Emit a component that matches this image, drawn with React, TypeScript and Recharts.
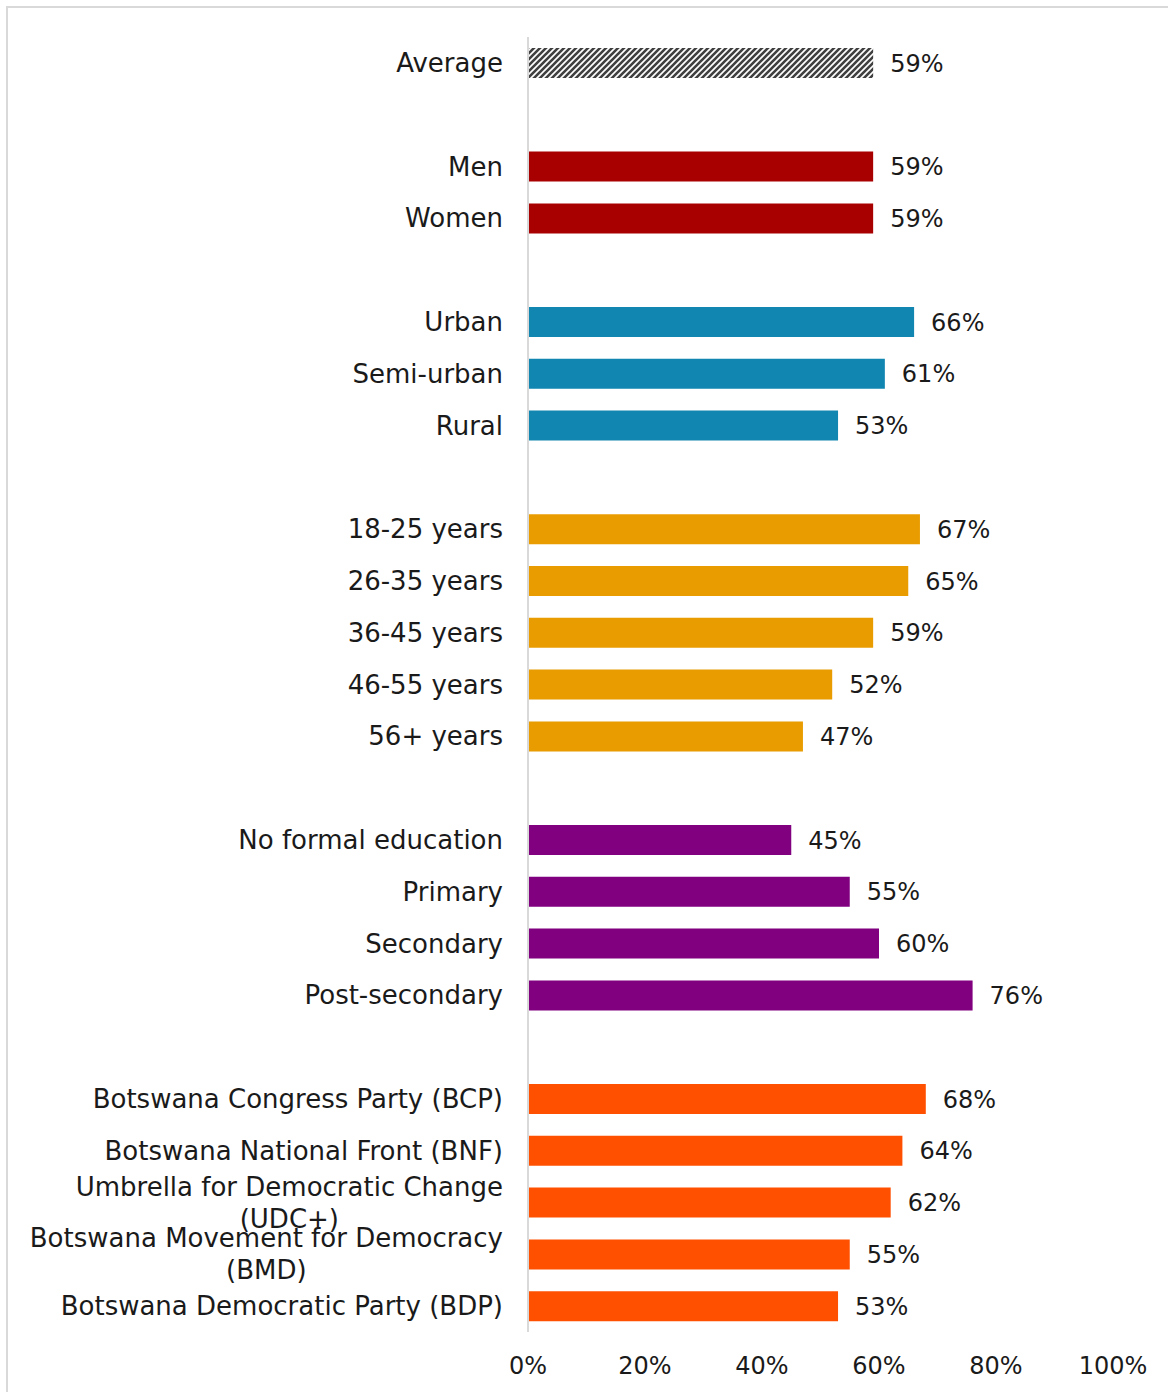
import React from 'react'
import { BarChart, Bar, XAxis, YAxis, Cell, LabelList } from 'recharts'

// rows top to bottom, '' marks the spacer rows between groups
const categories = [
  'Average', '',
  'Men', 'Women', '',
  'Urban', 'Semi-urban', 'Rural', '',
  '18-25 years', '26-35 years', '36-45 years', '46-55 years', '56+ years', '',
  'No formal education', 'Primary', 'Secondary', 'Post-secondary', '',
  'Botswana Congress Party (BCP)',
  'Botswana National Front (BNF)',
  'Umbrella for Democratic Change (UDC+)',
  'Botswana Movement for Democracy (BMD)',
  'Botswana Democratic Party (BDP)',
]

const values: (number | null)[] = [
  59, null,
  59, 59, null,
  66, 61, 53, null,
  67, 65, 59, 52, 47, null,
  45, 55, 60, 76, null,
  68, 64, 62, 55, 53,
]

const groups: (string | null)[] = [
  'average', null,
  'gender', 'gender', null,
  'location', 'location', 'location', null,
  'age', 'age', 'age', 'age', 'age', null,
  'education', 'education', 'education', 'education', null,
  'party', 'party', 'party', 'party', 'party',
]

const xTicks = [0, 20, 40, 60, 80, 100]

const groupColors: Record<string, string> = {
  average: 'url(#avgHatch)',
  gender: '#A80000',
  location: '#1086B0',
  age: '#E89C00',
  education: '#800080',
  party: '#FF5000',
}

const FONT = '"DejaVu Sans", sans-serif'
const CAT_SIZE = 26
const NUM_SIZE = 24
const TEXT = '#1a1a1a'

const data = categories.map((label, i) => ({
  id: `r${i}`,
  label,
  value: values[i],
  group: groups[i],
}))

let measureCtx: CanvasRenderingContext2D | null = null
function textWidth(s: string): number {
  if (!measureCtx) {
    measureCtx = document.createElement('canvas').getContext('2d')
  }
  if (!measureCtx) return s.length * CAT_SIZE * 0.6
  measureCtx.font = `${CAT_SIZE}px ${FONT}`
  return measureCtx.measureText(s).width
}

// long party names wrap: last word goes on its own line, centred under the first
function wrapLabel(s: string): string[] {
  if (s.length <= 33) return [s]
  const cut = s.lastIndexOf(' ')
  return [s.slice(0, cut), s.slice(cut + 1)]
}

function CategoryTick({ x, y, payload }: any) {
  const row = data.find((d) => d.id === payload.value)
  if (!row || !row.label) return null
  const lines = wrapLabel(row.label)
  if (lines.length === 1) {
    return (
      <text x={x} y={y} dy="0.35em" textAnchor="end" fontFamily={FONT} fontSize={CAT_SIZE} fill={TEXT}>
        {row.label}
      </text>
    )
  }
  const blockW = Math.max(...lines.map(textWidth))
  const cx = x - blockW / 2
  const lineH = 32
  const top = y - ((lines.length - 1) * lineH) / 2
  return (
    <g>
      {lines.map((ln, i) => (
        <text key={i} x={cx} y={top + i * lineH} dy="0.35em" textAnchor="middle"
          fontFamily={FONT} fontSize={CAT_SIZE} fill={TEXT}>
          {ln}
        </text>
      ))}
    </g>
  )
}

function PercentTick({ x, y, payload }: any) {
  return (
    <text x={x} y={y} dy="0.35em" textAnchor="middle" fontFamily={FONT} fontSize={NUM_SIZE} fill={TEXT}>
      {`${payload.value}%`}
    </text>
  )
}

export default function App() {
  return (
    <div style={{ position: 'fixed', left: 0, top: 0, width: 1168, height: 1392, overflow: 'hidden', background: '#fff' }}>
      <div style={{
        position: 'absolute', left: 6, top: 6, width: 1220, height: 1440,
        border: '2px solid #d9d9d9', boxSizing: 'border-box',
      }} />
      <div style={{ position: 'absolute', left: 0, top: 0 }}>
        <BarChart
          width={1168} height={1392} data={data} layout="vertical"
          margin={{ top: 37, right: 55, bottom: 0, left: 0 }}
          barCategoryGap={0}
        >
          <defs>
            <pattern id="avgHatch" width={6} height={6} patternUnits="userSpaceOnUse">
              <rect width={6} height={6} fill="#fff" />
              <path d="M0,6 L6,0 M-1.5,1.5 L1.5,-1.5 M4.5,7.5 L7.5,4.5" stroke="#404040" strokeWidth={2.6} />
            </pattern>
          </defs>
          <XAxis
            type="number" domain={[0, 100]} ticks={xTicks} interval={0}
            axisLine={false} tickLine={false} tickSize={0} tickMargin={34}
            height={60} tick={<PercentTick />}
          />
          <YAxis
            type="category" dataKey="id" width={528} interval={0}
            axisLine={{ stroke: '#d9d9d9', strokeWidth: 2 }}
            tickLine={false} tickSize={0} tickMargin={25}
            tick={<CategoryTick />}
          />
          <Bar dataKey="value" barSize={30} isAnimationActive={false}>
            {data.map((d) => (
              <Cell key={d.id} fill={d.group ? groupColors[d.group] : 'none'} />
            ))}
            <LabelList
              dataKey="value" position="right" offset={17}
              formatter={(v: any) => (v == null ? '' : `${v}%`)}
              style={{ fontFamily: FONT, fontSize: NUM_SIZE, fill: TEXT }}
            />
          </Bar>
        </BarChart>
      </div>
    </div>
  )
}
